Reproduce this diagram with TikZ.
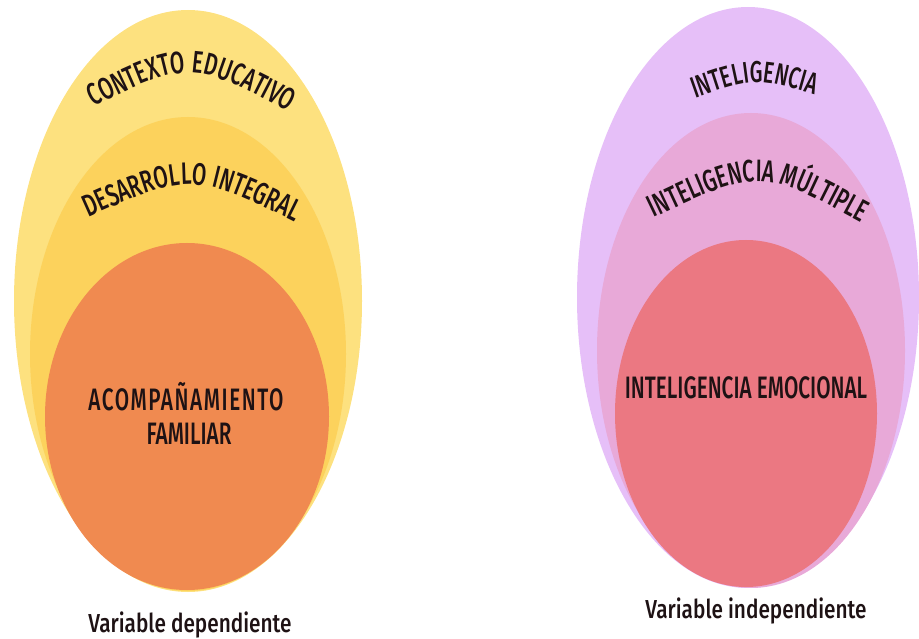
\documentclass[tikz,border=0pt]{standalone}
\usepackage{fontspec}
\setmainfont{Fira Sans}
\newfontfamily\capfont[FakeStretch=0.67, UprightFont={* Medium}]{Fira Sans}
\newfontfamily\varfont[FakeStretch=0.8, UprightFont={* Medium}]{Fira Sans}
\usetikzlibrary{decorations.text}
\definecolor{yelA}{HTML}{FDE17F}
\definecolor{yelB}{HTML}{FCD25C}
\definecolor{orgC}{HTML}{F08A50}
\definecolor{lilA}{HTML}{E6BFF8}
\definecolor{pnkB}{HTML}{E8A9D8}
\definecolor{redC}{HTML}{EB7882}
\definecolor{txtcol}{HTML}{1E1214}
\begin{document}
\begin{tikzpicture}[x=1pt,y=-1pt,
  curvetxt/.style={decorate, decoration={text along path, text align=center, text color=txtcol, text={#1}}},
  captxt/.style={anchor=base, inner sep=0pt, text=txtcol, font=\capfont\fontsize{31}{31}\selectfont},
  vartxt/.style={anchor=base, inner sep=0pt, text=txtcol, font=\varfont\fontsize{26}{26}\selectfont}]
\useasboundingbox (0,0) rectangle (919,639);
% left group
\fill[yelA] (188,301) ellipse [x radius=174, y radius=291];
\fill[yelB] (188,354) ellipse [x radius=158, y radius=237];
\fill[orgC] (187,416.5) ellipse [x radius=142, y radius=173.5];
% right group
\fill[lilA] (748,297.5) ellipse [x radius=171, y radius=290.5];
\fill[pnkB] (751,350.5) ellipse [x radius=154, y radius=237.5];
\fill[redC] (746,413.5) ellipse [x radius=131, y radius=173.5];
% curved labels
\path[curvetxt={|\capfont\fontsize{31}{31}\selectfont|CONTEXTO EDUCATIVO}] (78,115) .. controls (190,58) .. (304,120);
\path[curvetxt={|\capfont\fontsize{31}{31}\selectfont|DESARROLLO INTEGRAL}] (76,223) .. controls (192,171) .. (307,228);
\path[curvetxt={|\capfont\fontsize{30}{30}\selectfont|INTELIGENCIA}] (690,100) .. controls (755,77) .. (820,96);
\path[curvetxt={|\capfont\fontsize{31}{31}\selectfont|INTELIGENCIA MÚLTIPLE}] (645,222) .. controls (760,167) .. (870,227);
% straight labels
\node[captxt, font=\capfont\fontsize{31}{31}\selectfont\addfontfeature{LetterSpace=5}] (acomp) at (186,410) {ACOMPAÑAMIENTO};
\node[captxt] (famil) at (189,444) {FAMILIAR};
\node[captxt] (emoc) at (746,398) {INTELIGENCIA EMOCIONAL};
\node[vartxt] (vdep) at (190,632) {Variable dependiente};
\node[vartxt] (vind) at (756,618) {Variable independiente};
\end{tikzpicture}
\end{document}
